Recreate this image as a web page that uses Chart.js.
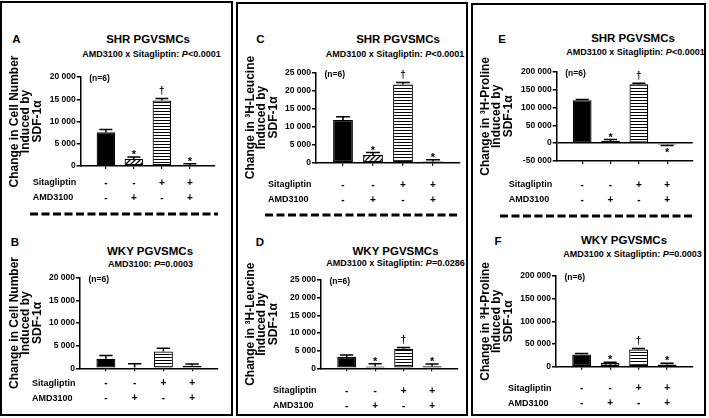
<!DOCTYPE html>
<html>
<head>
<meta charset="utf-8">
<script src="https://cdn.jsdelivr.net/npm/chart.js@4.4.0/dist/chart.umd.min.js"></script>
<style>
  html, body { margin: 0; padding: 0; background: #fff; }
  body { width: 709px; height: 418px; position: relative; overflow: hidden;
         font-family: "Liberation Sans", Arial, sans-serif; font-weight: bold; color: #000; }
  .box { position: absolute; border: 2px solid #000; box-sizing: border-box; }
  .txt { position: absolute; white-space: nowrap; transform: translate(-50%, -50%); line-height: 1; }
  .letter { font-size: 11.5px; }
  .title { font-size: 11.5px; }
  .sub { font-size: 9px; }
  canvas { position: absolute; }
  svg { position: absolute; left: 0; top: 0; }
</style>
</head>
<body>
<div class="box" style="left:0;top:1px;width:233px;height:415px"></div>
<div class="box" style="left:236px;top:2px;width:232px;height:414px"></div>
<div class="box" style="left:471px;top:3px;width:235px;height:413px"></div>

<svg width="709" height="418">
  <line x1="30" y1="214" x2="218" y2="214" stroke="#000" stroke-width="3" stroke-dasharray="8 3.5"/>
  <line x1="265" y1="215" x2="458" y2="215" stroke="#000" stroke-width="3" stroke-dasharray="8 3.5"/>
  <line x1="500" y1="216" x2="693" y2="216" stroke="#000" stroke-width="3" stroke-dasharray="8 3.5"/>
</svg>

<div class="txt letter" style="left:16.5px;top:40px">A</div>
<div class="txt title" style="left:148px;top:39.5px">SHR PGVSMCs</div>
<div class="txt sub" style="left:151.5px;top:54px">AMD3100 x Sitagliptin: <i>P</i>&lt;0.0001</div>

<div class="txt letter" style="left:15px;top:242.5px">B</div>
<div class="txt title" style="left:150px;top:251.5px">WKY PGVSMCs</div>
<div class="txt sub" style="left:150.5px;top:263.5px">AMD3100: <i>P</i>=0.0003</div>

<div class="txt letter" style="left:260.5px;top:40px">C</div>
<div class="txt title" style="left:398px;top:39.5px">SHR PGVSMCs</div>
<div class="txt sub" style="left:395px;top:53.5px">AMD3100 x Sitagliptin: <i>P</i>&lt;0.0001</div>

<div class="txt letter" style="left:260px;top:242.5px">D</div>
<div class="txt title" style="left:395.5px;top:251.5px">WKY PGVSMCs</div>
<div class="txt sub" style="left:395.5px;top:262.5px">AMD3100 x Sitagliptin: <i>P</i>=0.0286</div>

<div class="txt letter" style="left:502px;top:39.5px">E</div>
<div class="txt title" style="left:633px;top:38.5px">SHR PGVSMCs</div>
<div class="txt sub" style="left:635.5px;top:51.5px">AMD3100 x Sitagliptin: <i>P</i>&lt;0.0001</div>

<div class="txt letter" style="left:498px;top:241.5px">F</div>
<div class="txt title" style="left:624px;top:240.5px">WKY PGVSMCs</div>
<div class="txt sub" style="left:632.5px;top:253.5px">AMD3100 x Sitagliptin: <i>P</i>=0.0003</div>

<script>
// treatment groups and the +/- table under each graph
const groups = ['Vehicle', 'AMD3100', 'Sitagliptin', 'Sitagliptin + AMD3100'];
const rowNames = ['Sitagliptin', 'AMD3100'];
const sitagliptinRow = ['-', '-', '+', '+'];
const amd3100Row = ['-', '+', '-', '+'];

// cell number (A: SHR, B: WKY)
const cellSHR = [7600, 1600, 14700, 200];
const cellSHRErr = [600, 400, 450, 300];
const cellWKY = [2100, 200, 3700, 550];
const cellWKYErr = [700, 800, 700, 400];

// 3H-leucine (C: SHR, D: WKY)
const leuSHR = [11800, 2100, 21600, 300];
const leuSHRErr = [900, 700, 600, 500];
const leuWKY = [3200, 500, 5500, 600];
const leuWKYErr = [600, 800, 400, 600];

// 3H-proline (E: SHR, F: WKY)
const proSHR = [120000, 6000, 165000, -4000];
const proSHRErr = [2500, 4000, 3000, 2500];
const proWKY = [27000, 8000, 38000, 5000];
const proWKYErr = [2000, 2000, 2000, 2500];

// significance marks above bars
const marksSig = ['', '*', '\u2020', '*'];
const marksNone = ['', '', '', ''];

const FONT = '"Liberation Sans", Arial, sans-serif';
Chart.defaults.font.family = FONT;
Chart.defaults.color = '#000';

function makePattern(kind) {
  const s = kind === 'h' ? 3 : 5;
  const c = document.createElement('canvas');
  c.width = s; c.height = s;
  const g = c.getContext('2d');
  g.fillStyle = '#fff';
  g.fillRect(0, 0, s, s);
  g.strokeStyle = '#000';
  if (kind === 'h') {
    g.lineWidth = 1;
    g.beginPath(); g.moveTo(0, 0.5); g.lineTo(s, 0.5); g.stroke();
  } else {
    g.lineWidth = 1.3;
    g.beginPath();
    g.moveTo(-1, s + 1); g.lineTo(s + 1, -1);
    g.moveTo(-1, 1); g.lineTo(1, -1);
    g.moveTo(s - 1, s + 1); g.lineTo(s + 1, s - 1);
    g.stroke();
  }
  return g.createPattern(c, 'repeat');
}
const fills = ['#000', makePattern('d'), makePattern('h'), makePattern('d')];

const fmt = v => (v < 0 ? '-' : '') + String(Math.abs(v)).replace(/\B(?=(\d{3})+(?!\d))/g, ' ');

// error bars, stars, (n=6) and the row names of the table
const extras = {
  id: 'extras',
  afterDatasetsDraw(chart, args, opts) {
    const {ctx, chartArea, scales: {x, y}} = chart;
    const meta = chart.getDatasetMeta(0);
    ctx.save();
    ctx.strokeStyle = '#000';
    ctx.fillStyle = '#000';
    ctx.lineWidth = 1.5;
    meta.data.forEach((bar, i) => {
      const v = opts.values[i];
      const dir = v < 0 ? -1 : 1;
      const yTop = y.getPixelForValue(v);
      const yErr = y.getPixelForValue(v + dir * opts.errors[i]);
      const half = bar.width * 0.35;
      ctx.beginPath();
      ctx.moveTo(bar.x, yTop); ctx.lineTo(bar.x, yErr);
      ctx.moveTo(bar.x - half, yErr); ctx.lineTo(bar.x + half, yErr);
      ctx.stroke();
      const m = opts.marks[i];
      if (m) {
        ctx.textAlign = 'center';
        ctx.textBaseline = 'middle';
        if (m === '*') {
          ctx.font = 'bold 11px ' + FONT;
          ctx.fillText(m, bar.x, dir > 0 ? yErr - 2 : yErr + 8);
        } else {
          ctx.font = 'bold 10px ' + FONT;
          ctx.fillText(m, bar.x, yErr - 7);
        }
      }
    });
    ctx.font = 'bold 8.5px ' + FONT;
    ctx.textAlign = 'left';
    ctx.textBaseline = 'middle';
    ctx.fillText('(n=6)', chartArea.left + 8.5, chartArea.top + 2);
    const y0 = x.bottom - x.height + 3 + x.options.ticks.padding + 7.5;
    ctx.font = 'bold 9px ' + FONT;
    ctx.fillText(rowNames[0], chartArea.left - 48, y0);
    ctx.fillText(rowNames[1], chartArea.left - 48, y0 + 15);
    ctx.restore();
  }
};

const titleCell = ['Change in Cell Number', 'Induced by', 'SDF-1\u03b1'];
const titleLeu = ['Change in \u00b3H-Leucine', 'Induced by', 'SDF-1\u03b1'];
const titlePro = ['Change in \u00b3H-Proline', 'Induced by', 'SDF-1\u03b1'];

const panels = [
  {left: 0, area: [80.7, 77, 215, 166], pad: 6.5, values: cellSHR, errors: cellSHRErr, marks: marksSig, title: titleCell, min: 0, max: 20000, step: 5000},
  {left: 0, area: [80, 277.7, 218, 368.3], pad: 4.5, values: cellWKY, errors: cellWKYErr, marks: marksNone, title: titleCell, min: 0, max: 20000, step: 5000},
  {left: 236, area: [316, 72.3, 460, 162.7], pad: 11.8, values: leuSHR, errors: leuSHRErr, marks: marksSig, title: titleLeu, min: 0, max: 25000, step: 5000},
  {left: 236, area: [321, 280, 457.7, 368.3], pad: 12.2, values: leuWKY, errors: leuWKYErr, marks: marksSig, title: titleLeu, min: 0, max: 25000, step: 5000},
  {left: 471, area: [556.7, 71.7, 692.7, 161], pad: 13.5, values: proSHR, errors: proSHRErr, marks: marksSig, title: titlePro, min: -50000, max: 200000, step: 50000},
  {left: 471, area: [556, 276, 692.7, 366.7], pad: 11.2, values: proWKY, errors: proWKYErr, marks: marksSig, title: titlePro, min: 0, max: 200000, step: 50000}
];

panels.forEach(p => {
  const [aL, aT, aR, aB] = p.area;
  const top = Math.round(aT) - 32;
  const width = Math.ceil(aR - p.left) + 10;
  const height = Math.ceil(aB - top) + 42;
  const xH = height - (aB - top);
  const cv = document.createElement('canvas');
  cv.width = width; cv.height = height;
  cv.style.left = p.left + 'px';
  cv.style.top = top + 'px';
  document.body.appendChild(cv);

  new Chart(cv, {
    type: 'bar',
    data: {
      datasets: [{
        data: p.values.map((v, i) => ({x: i, y: v})),
        backgroundColor: fills,
        borderColor: '#000',
        borderWidth: 1.2,
        borderSkipped: false,
        barPercentage: 0.66,
        categoryPercentage: 1
      }]
    },
    options: {
      responsive: false,
      animation: false,
      layout: {padding: {left: 0, top: aT - top, right: width - (aR - p.left), bottom: 0}},
      plugins: {
        legend: {display: false},
        tooltip: {enabled: false},
        extras: {values: p.values, errors: p.errors, marks: p.marks}
      },
      scales: {
        x: {
          type: 'linear',
          offset: false,
          min: -0.9,
          max: 3.9,
          afterBuildTicks: s => { s.ticks = groups.map((g, i) => ({value: i})); },
          afterFit: s => { s.height = xH; },
          ticks: {
            callback: v => [sitagliptinRow[v], amd3100Row[v]],
            font: {size: 10, weight: 'bold', lineHeight: '15px'},
            padding: p.pad,
            maxRotation: 0,
            autoSkip: false
          },
          grid: {offset: false, drawOnChartArea: false, tickLength: 3, color: '#000', lineWidth: 1.2},
          border: {color: '#000', width: 1.5}
        },
        y: {
          min: p.min,
          max: p.max,
          afterFit: s => { s.width = aL - p.left; },
          ticks: {stepSize: p.step, callback: v => fmt(v), font: {size: 8.5, weight: 'bold'}, padding: 1},
          grid: {
            drawOnChartArea: p.min < 0,
            color: c => (c.tick && c.tick.value === 0) ? '#000' : 'rgba(0,0,0,0)',
            tickColor: '#000',
            tickLength: 4,
            lineWidth: 1.5
          },
          border: {color: '#000', width: 1.5},
          title: {
            display: true,
            text: p.title,
            font: {size: 12, weight: 'bold', lineHeight: 0.96},
            padding: {top: 8.5, bottom: 0}
          }
        }
      }
    },
    plugins: [extras]
  });
});
</script>
</body>
</html>
